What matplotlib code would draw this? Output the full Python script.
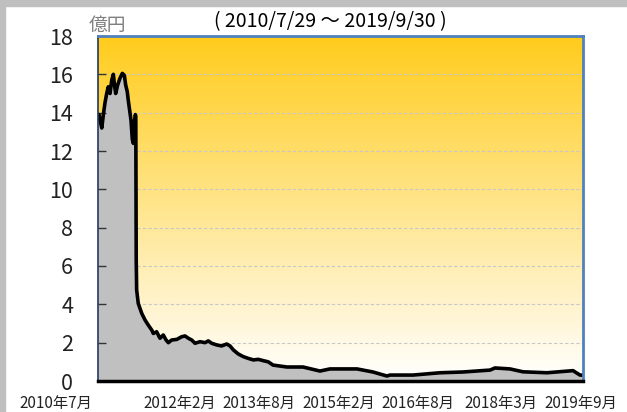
import numpy as np
import pandas as pd
import matplotlib
matplotlib.use("Agg")
import matplotlib.pyplot as plt
import matplotlib.transforms as mtransforms

plt.rcParams['font.family'] = ['Noto Sans CJK JP', 'DejaVu Sans']

# ---- data (億円) ----
dates = [
    "2010-07-29", "2010-08-05", "2010-08-12", "2010-08-24", "2010-09-04", "2010-09-15",
    "2010-09-27", "2010-10-08", "2010-10-20", "2010-11-01", "2010-11-12", "2010-11-19",
    "2010-11-28", "2010-12-12", "2010-12-28", "2011-01-13", "2011-01-27", "2011-02-05",
    "2011-02-16", "2011-02-23", "2011-03-05", "2011-03-14", "2011-03-23", "2011-03-30",
    "2011-04-06", "2011-04-13", "2011-04-16", "2011-04-19", "2011-04-22", "2011-05-03",
    "2011-05-27", "2011-06-19", "2011-07-11", "2011-08-04", "2011-08-15", "2011-09-07",
    "2011-09-30", "2011-10-23", "2011-11-11", "2011-11-27", "2011-12-20", "2012-01-24",
    "2012-02-27", "2012-03-21", "2012-04-13", "2012-05-06", "2012-05-29", "2012-07-03",
    "2012-08-06", "2012-08-29", "2012-09-21", "2012-10-26", "2012-11-29", "2013-01-03",
    "2013-01-26", "2013-02-18", "2013-03-24", "2013-04-28", "2013-06-01", "2013-07-06",
    "2013-08-09", "2013-09-13", "2013-10-17", "2013-11-19", "2014-02-23", "2014-06-14",
    "2014-10-09", "2014-12-17", "2015-06-22", "2015-10-10", "2016-01-15", "2016-02-05",
    "2016-07-13", "2017-01-15", "2017-06-23", "2017-12-27", "2018-01-30", "2018-05-14",
    "2018-08-11", "2019-01-24", "2019-07-23", "2019-09-09", "2019-09-30",
]
values = [
    13.8, 13.9, 13.6, 13.2, 13.9, 14.5,
    15.0, 15.35, 15.0, 15.7, 16.0, 15.5,
    15.0, 15.45, 15.8, 16.05, 15.95, 15.45,
    15.1, 14.65, 14.1, 13.6, 12.6, 12.4,
    13.5, 13.9, 13.8, 6.3, 4.75, 4.05,
    3.53, 3.18, 2.92, 2.66, 2.48, 2.57,
    2.23, 2.40, 2.14, 2.00, 2.14, 2.17,
    2.31, 2.35, 2.23, 2.14, 1.97, 2.05,
    2.00, 2.09, 1.97, 1.88, 1.83, 1.93,
    1.83, 1.62, 1.41, 1.27, 1.18, 1.10,
    1.13, 1.06, 1.00, 0.83, 0.73, 0.73,
    0.52, 0.63, 0.63, 0.47, 0.26, 0.31,
    0.31, 0.43, 0.47, 0.57, 0.68, 0.63,
    0.48, 0.43, 0.54, 0.31, 0.30,
]
x_start, x_end = "2010-07-29", "2019-09-30"
tick_dates = ["2010-07-29", "2012-02-15", "2013-08-15", "2015-02-15",
              "2016-08-15", "2018-03-15", "2019-09-15"]
tick_labels = ["2010年7月", "2012年2月", "2013年8月", "2015年2月",
               "2016年8月", "2018年3月", "2019年9月"]
y_ticks = list(range(0, 19, 2))
unit_label = "億円"
title = "( 2010/7/29 ～ 2019/9/30 )"

d = pd.to_datetime(dates)
v = np.array(values)

fig = plt.figure(figsize=(6.27, 4.12), dpi=100)
W, H = 627, 412
ax = fig.add_axes([98 / W, 31 / H, 485 / W, 345 / H])

# figure frame (gray bands)
fig.patches.append(plt.Rectangle((0, 1 - 6 / H), 1, 6 / H, transform=fig.transFigure,
                                 color="#BFBFBF", zorder=0))
fig.patches.append(plt.Rectangle((0, 0), 5 / W, 1, transform=fig.transFigure,
                                 color="#BFBFBF", zorder=0))

# gradient background
top = np.array([255, 204, 28]) / 255
bot = np.array([255, 255, 255]) / 255
t = np.linspace(0, 1, 256)[:, None]
grad = top * (1 - t) + bot * t
grad = np.repeat(grad[:, None, :], 2, axis=1)
ax.imshow(grad, extent=[0, 1, 0, 1], transform=ax.transAxes, aspect="auto",
          zorder=0, interpolation="bilinear")

for yv in y_ticks[1:]:
    ax.axhline(yv, color="#C8C8C8", lw=0.8, ls=(0, (3, 2)), zorder=0.5)

ax.fill_between(d, v, 0, color="#C0C0C0", zorder=1, lw=0)
ax.plot(d, v, color="black", lw=2.6, zorder=3, solid_joinstyle="round")

ax.set_xlim(pd.Timestamp(x_start), pd.Timestamp(x_end))
ax.set_ylim(0, 18)
ax.set_yticks(y_ticks)
ax.tick_params(axis="y", direction="in", length=6, width=1, color="#333333",
               labelsize=15.5, labelcolor="#222222", pad=18)
ax.set_xticks(pd.to_datetime(tick_dates))
ax.set_xticklabels(tick_labels)
ax.tick_params(axis="x", length=0, labelsize=11, labelcolor="#222222", pad=10)
first = ax.get_xticklabels()[0]
first.set_ha("right")
first.set_transform(first.get_transform() +
                    mtransforms.ScaledTranslation(-6 / 100, 0, fig.dpi_scale_trans))

for s in ["top", "right"]:
    ax.spines[s].set_color("#4F81BD")
    ax.spines[s].set_linewidth(2)
ax.spines["left"].set_color("#1F3864")
ax.spines["left"].set_linewidth(1.2)
ax.spines["bottom"].set_color("black")
ax.spines["bottom"].set_linewidth(2.5)
for s in ax.spines.values():
    s.set_zorder(4)

fig.text(89 / W, 1 - 25 / H, unit_label, fontsize=13.5, color="#7F7F7F",
         ha="left", va="center")
fig.text(330 / W, 1 - 22 / H, title, fontsize=14, color="black",
         ha="center", va="center")

fig.savefig("out.png", dpi=100)
